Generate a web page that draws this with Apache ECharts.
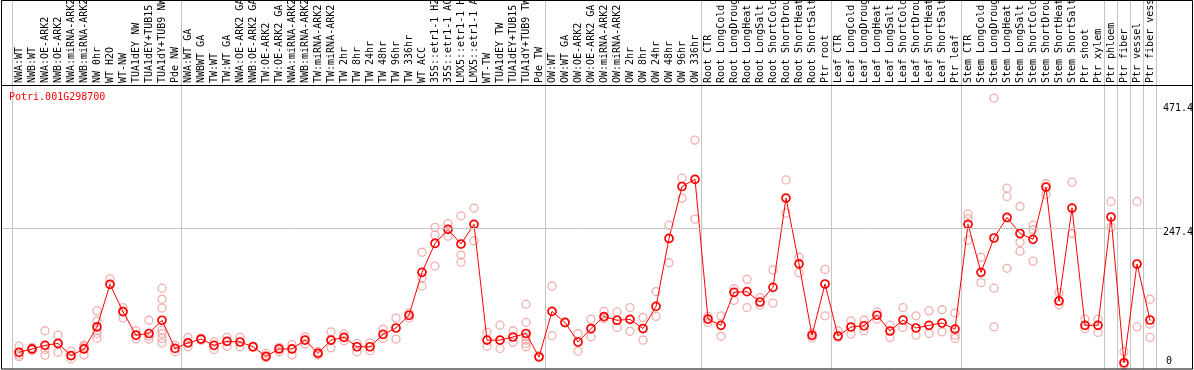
<!DOCTYPE html>
<html><head><meta charset="utf-8">
<script src="https://cdn.jsdelivr.net/npm/echarts@6/dist/echarts.min.js"></script>
<style>html,body{margin:0;padding:0;background:#fff}#c{width:1194px;height:370px}</style>
</head><body><div id="c"></div>
<script>
const geneName = 'Potri.001G298700';
const categories = [
  'NWA:WT','NWB:WT','NWA:OE-ARK2','NWB:OE-ARK2','NWA:miRNA-ARK2','NWB:miRNA-ARK2','NW 0hr','WT H2O','WT-NW','TUA1dEY NW',
  'TUA1dEY+TUB15 NW','TUA1dY+TUB9 NW','Pde NW','NWA:WT GA','NWBWT GA','TW:WT','TW:WT GA','NWA:OE-ARK2 GA','NWB:OE-ARK2 GA','TW:OE-ARK2',
  'TW:OE-ARK2 GA','NWA:miRNA-ARK2 GA','NWB:miRNA-ARK2 GA','TW:miRNA-ARK2','TW:miRNA-ARK2 GA','TW 2hr','TW 8hr','TW 24hr','TW 48hr','TW 96hr',
  'TW 336hr','WT ACC','35S::etr1-1 H2O','35S::etr1-1 ACC','LMX5::etr1-1 H2O','LMX5::etr1-1 ACC','WT-TW','TUA1dEY TW','TUA1dEY+TUB15 TW','TUA1dY+TUB9 TW',
  'Pde TW','OW:WT','OW:WT GA','OW:OE-ARK2','OW:OE-ARK2 GA','OW:miRNA-ARK2','OW:miRNA-ARK2 GA','OW 2hr','OW 8hr','OW 24hr',
  'OW 48hr','OW 96hr','OW 336hr','Root CTR','Root LongCold','Root LongDrought','Root LongHeat','Root LongSalt','Root ShortCold','Root ShortDrought',
  'Root ShortHeat','Root ShortSalt','Ptr root','Leaf CTR','Leaf LongCold','Leaf LongDrought','Leaf LongHeat','Leaf LongSalt','Leaf ShortCold','Leaf ShortDrought',
  'Leaf ShortHeat','Leaf ShortSalt','Ptr leaf','Stem CTR','Stem LongCold','Stem LongDrought','Stem LongHeat','Stem LongSalt','Stem ShortCold','Stem ShortDrought',
  'Stem ShortHeat','Stem ShortSalt','Ptr shoot','Ptr xylem','Ptr phloem','Ptr fiber','Ptr vessel','Ptr fiber vessel'
];
const means = [
  23,29,35.6,39,17,29,69,146,96.5,54,
  57,81,30,40,47,35.6,42.8,41.6,33,15.7,
  29,29,45,21,45,50,33,33,55.5,67,
  90,167.7,220,245.5,219,254.6,45,45,50.7,57,
  14.5,97,77,41.6,66,87.5,81,82.6,66,106,
  229,323,336,83,71.8,131.5,132.7,114,140.6,302,
  183,53.7,146.6,52.5,68.8,71,90,61.5,81.4,67,
  71.8,76,65,254.6,167.7,229.8,267,238,227.4,322,
  115.8,284,71.8,71.8,267.8,4,182.8,81.4
];
const replicates = [
  [34,18,15],[27,32,28],[62,28,17.5],[54,23,39],[25,11,17],[36,18,33],[98,80,63,57,48],[156,146],[104,85,97],[62,47,54],
  [81,47,52],[139,119,103,63,57,48,40],[36,24],[50,33],[48,45],[42,28],[50,34],[50,33],[34,32],[21,13],
  [32,24],[37,18],[51,38],[18,24],[60,31],[56,44],[39,24],[40,26],[65,48],[85,47],
  [94,85],[204,158,143],[249,235,179],[256,233],[270,199,186],[284,225],[59,34],[72,30],[62,41],[110,77,51,45,39,33],
  [17],[143,53],[77],[57,25],[83,51],[97,84],[96,68],[104,61],[86,45],[133,88],
  [253,185],[338,302],[407,264],[88,77],[89,52],[138,117],[155,104],[122,108],[172,112],[335,275],
  [195,167],[58,49],[173,89],[62,50],[80,56],[81,62],[96,83],[72,50],[104,68],[89,54],
  [98,57],[100,60],[94,54,48],[273,265,226],[195,149],[483,139,69],[320,305,175],[287,222,206],[253,245,188],[328,309],
  [131,109],[331,238],[83,66],[83,59],[296,249],[24,0],[296,69],[119,74,50]
];
const groupStarts = [0,13,41,53,63,73,84,85,86,87];
const yTickLabels = [247.4, 471.4];
const yZeroLabel = [0];
const gridLineValues = [247.4];

const FONT = 'DejaVu Sans Mono';
const yMin = -7.24, yMax = 506.7;
const scatterData = [];
replicates.forEach((arr, i) => arr.forEach(v => scatterData.push([i, v])));

const chart = echarts.init(document.getElementById('c'), null, {renderer: 'canvas'});
const labelStyle = {fontFamily: FONT, fontSize: 10, color: '#000'};
chart.setOption({
  animation: false,
  backgroundColor: '#fff',
  title: {text: geneName, left: 9, top: 92, padding: 0,
    textStyle: {color: '#ff0000', fontFamily: FONT, fontSize: 10, fontWeight: 'normal'}},
  grid: [
    {left: 12.5, right: 37.5, top: 85, bottom: 1, outerBoundsMode: 'none', containLabel: false},
    {left: 12.5, right: 37.5, top: 0, bottom: 1, outerBoundsMode: 'none', containLabel: false},
    {left: 1, right: 32, top: 85, bottom: 1, outerBoundsMode: 'none', containLabel: false}
  ],
  xAxis: [
    {gridIndex: 0, type: 'category', data: categories, position: 'top', boundaryGap: true,
      axisLine: {show: false}, axisTick: {show: false}, splitLine: {show: false},
      axisLabel: Object.assign({interval: 0, rotate: 90, margin: 2}, labelStyle)},
    {gridIndex: 1, type: 'category', data: categories, boundaryGap: true,
      axisLine: {show: false}, axisTick: {show: false}, axisLabel: {show: false},
      splitLine: {show: true, interval: (idx) => groupStarts.includes(idx), lineStyle: {color: '#c4c4c4', width: 1}}},
    {gridIndex: 2, type: 'value', min: 0, max: 1, show: false}
  ],
  yAxis: [
    {gridIndex: 0, type: 'value', min: yMin, max: yMax, show: false},
    {gridIndex: 1, type: 'value', show: false},
    {gridIndex: 2, type: 'value', min: yMin, max: yMax, position: 'right',
      axisLine: {show: false}, axisTick: {show: false}, splitLine: {show: false},
      axisLabel: Object.assign({customValues: yTickLabels, margin: 1, verticalAlign: 'top', lineHeight: 8, align: 'left'}, labelStyle)},
    {gridIndex: 2, type: 'value', min: yMin, max: yMax, position: 'right',
      axisLine: {show: false}, axisTick: {show: false}, splitLine: {show: false},
      axisLabel: Object.assign({customValues: yZeroLabel, margin: 4, verticalAlign: 'bottom', lineHeight: 8, align: 'left'}, labelStyle)}
  ],
  graphic: [
    {type: 'rect', silent: true, z: 100, shape: {x: 1.5, y: 0.5, width: 1191, height: 368.5},
      style: {fill: null, stroke: '#000', lineWidth: 1}},
    {type: 'line', silent: true, z: 100, shape: {x1: 1, y1: 85.5, x2: 1192, y2: 85.5},
      style: {stroke: '#000', lineWidth: 1}}
  ],
  series: [
    {type: 'line', xAxisIndex: 2, yAxisIndex: 2, data: [], silent: true, z: 0,
      markLine: {silent: true, symbol: 'none', label: {show: false}, animation: false,
        lineStyle: {color: '#c4c4c4', type: 'solid', width: 1},
        data: gridLineValues.map(v => ({yAxis: v}))}},
    {type: 'scatter', xAxisIndex: 0, yAxisIndex: 0, data: scatterData, silent: true, z: 2,
      symbol: 'circle', symbolSize: 8,
      itemStyle: {color: 'rgba(0,0,0,0)', borderColor: '#f09a9a', borderWidth: 1.3}},
    {type: 'line', xAxisIndex: 0, yAxisIndex: 0, data: means, silent: true, z: 3,
      symbol: 'circle', symbolSize: 8, showAllSymbol: true,
      lineStyle: {color: '#ff0000', width: 1},
      itemStyle: {color: 'rgba(0,0,0,0)', borderColor: '#ff0000', borderWidth: 1.7}}
  ]
});
</script>
</body></html>
